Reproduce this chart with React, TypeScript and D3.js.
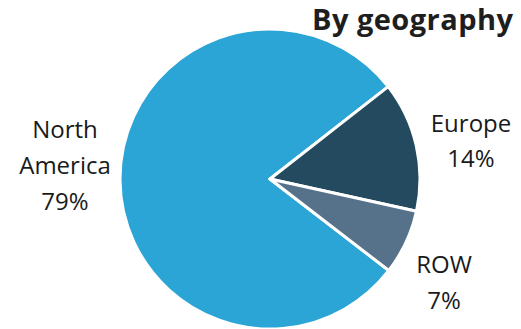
import React from "react";
import * as d3 from "d3";

const categories = ["North America", "Europe", "ROW"];
const values = [79, 14, 7];
const colors = ["#2BA4D6", "#234A5F", "#56728B"];
const title = "By geography";

export default function App() {
  const W = 521, H = 329;
  const cx = 270, cy = 179, r = 150;
  const pie = d3.pie<number>().sort(null).startAngle((127.6 * Math.PI) / 180).endAngle((127.6 * Math.PI) / 180 + 2 * Math.PI);
  const arcs = pie(values);
  const arc = d3.arc<d3.PieArcDatum<number>>().innerRadius(0).outerRadius(r);
  const font = "'Open Sans', 'Noto Sans', sans-serif";
  const labelPos = [
    { x: 65, y: [138, 174, 210], lines: ["North", "America", "79%"] },
    { x: 471, y: [132, 167], lines: ["Europe", "14%"] },
    { x: 444, y: [273, 309], lines: ["ROW", "7%"] },
  ];
  return (
    <svg width={W} height={H} style={{ position: "absolute", left: 0, top: 0 }}>
      <rect width={W} height={H} fill="#fff" />
      <g transform={`translate(${cx},${cy})`}>
        {arcs.map((a, i) => (
          <path key={categories[i]} d={arc(a) || ""} fill={colors[i]} stroke="#fff" strokeWidth={3} strokeLinejoin="round" />
        ))}
      </g>
      {labelPos.map((l, i) => (
        <text key={categories[i]} x={l.x} textAnchor="middle" fontFamily={font} fontSize={24} fill="#1a1a1a">
          {l.lines.map((t, j) => (
            <tspan key={j} x={l.x} y={l.y[j]}>{t}</tspan>
          ))}
        </text>
      ))}
      <text x={312} y={29.5} fontFamily={font} fontWeight="bold" fontSize={29} fill="#1e1e1e" textLength={201} lengthAdjust="spacing">{title}</text>
    </svg>
  );
}
